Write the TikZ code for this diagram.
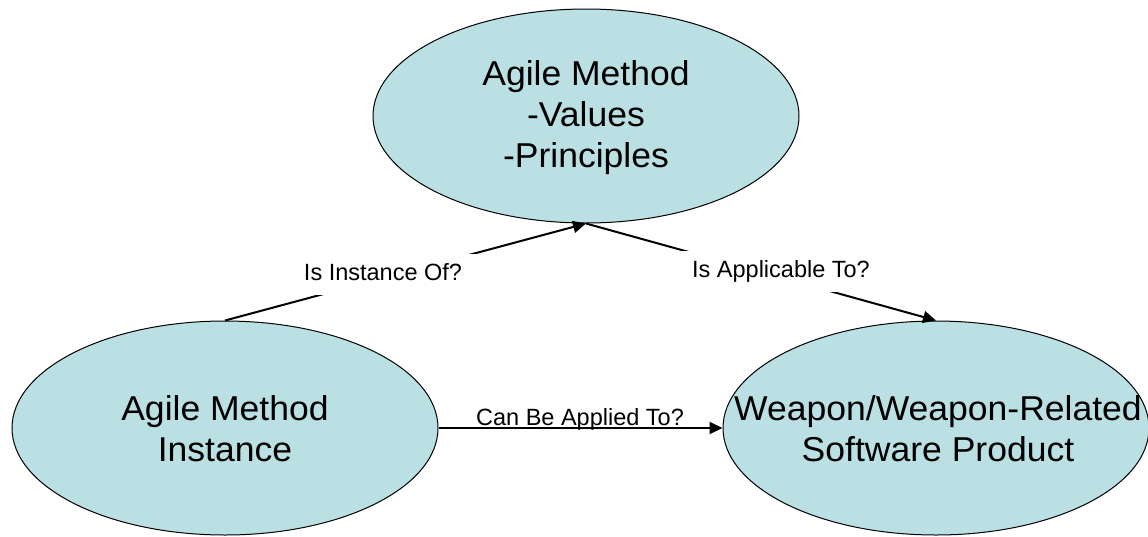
\documentclass[tikz,border=0pt]{standalone}
\usepackage{fontspec}
\setmainfont{Liberation Sans}
\newfontfamily\bigfont[FakeStretch=1.03]{Liberation Sans}
\usetikzlibrary{shapes.geometric,arrows.meta}
\definecolor{bubble}{RGB}{187,224,227}
\tikzset{
  bub/.style={ellipse, draw=black, line width=1pt, fill=bubble, minimum width=426pt, minimum height=214pt, inner sep=0pt},
  bigtxt/.style={align=center, font=\bigfont\fontsize{34.5pt}{41.3pt}\selectfont, inner sep=0pt},
  arr/.style={line width=2pt, -{Triangle[length=13pt,width=12pt]}},
  lbl/.style={fill=white, font=\fontsize{23.5pt}{28pt}\selectfont, text height=17pt, text depth=5pt, inner xsep=16pt, inner ysep=9.5pt, anchor=base},
  lblplain/.style={font=\fontsize{23.5pt}{28pt}\selectfont, inner sep=0pt, anchor=base}
}
\begin{document}
\begin{tikzpicture}[x=1pt,y=-1pt]
\useasboundingbox (0,0) rectangle (1148,536);
\node[bub] (am) at (586,116) {};
\node[bub] (ami) at (225,428) {};
\node[bub] (wp) at (936,428) {};
\node[bigtxt] (amt) at ([yshift=-1.5pt]am.center) {Agile Method\\-Values\\-Principles};
\node[bigtxt] (amit) at ([yshift=-1pt]ami.center) {Agile Method\\Instance};
\node[bigtxt] (wpt) at ([xshift=2pt,yshift=-1pt]wp.center) {Weapon/Weapon-Related\\Software Product};
\draw[arr] (ami.north) -- (am.south);
\draw[arr] (am.south) -- (wp.north);
\draw[arr] (ami.east) -- (wp.west);
\node[lbl] (l1) at (383,280) {Is Instance Of?};
\node[lbl] (l2) at (781,277) {Is Applicable To?};
\node[lblplain] (l3) at (580,425) {Can Be Applied To?};
\end{tikzpicture}
\end{document}
